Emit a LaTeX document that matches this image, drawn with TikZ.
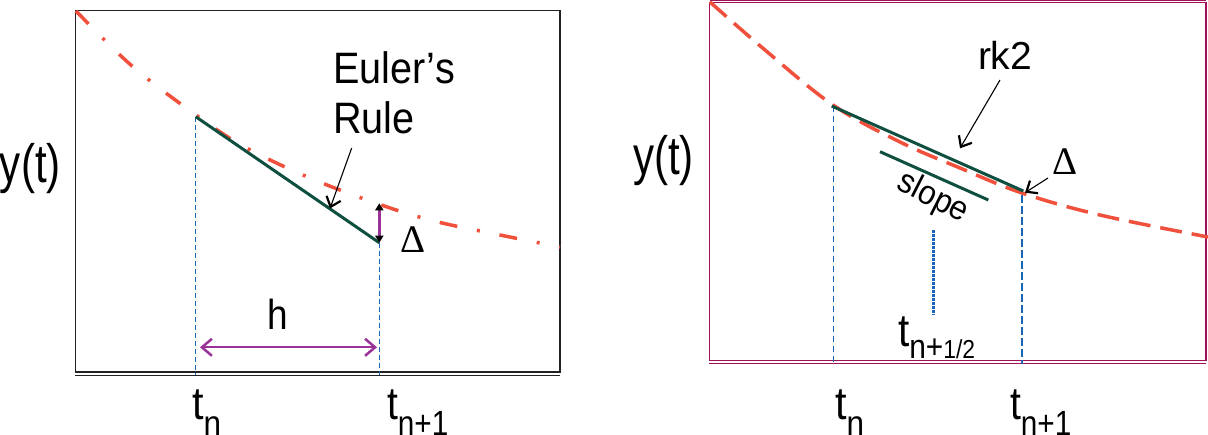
\documentclass[tikz,border=0pt]{standalone}
\usepackage{fontspec}
\setmainfont{Liberation Sans}
\newfontfamily\serifgr{Liberation Serif}
\usepackage{graphicx}
\usetikzlibrary{arrows.meta}
\definecolor{redc}{HTML}{F0503C}
\definecolor{greenc}{HTML}{0E4F40}
\definecolor{bluec}{HTML}{1A64B4}
\definecolor{purplec}{HTML}{993399}
\definecolor{boxmag}{HTML}{A0105A}
\definecolor{boxdark}{HTML}{222222}
\newcommand{\fsz}[1]{\fontsize{#1}{#1}\selectfont}
\newcommand{\cond}[2]{\scalebox{#1}[1]{#2}}
\begin{document}
\begin{tikzpicture}[x=1pt,y=-1pt,
  lbl/.style={anchor=base west, inner sep=0pt, outer sep=0pt},
  leftbox/.style={draw=boxdark, line width=1.4pt},
  rightbox/.style={draw=boxmag, line width=1.2pt},
  eulercurve/.style={draw=redc, line width=3.5pt, dash pattern=on 18pt off 20pt on 3pt off 20pt},
  rkcurve/.style={draw=redc, line width=3.5pt, dash pattern=on 22pt off 10pt},
  approx/.style={draw=greenc, line width=3pt},
  guide/.style={draw=bluec, line width=1.3pt, dash pattern=on 5pt off 3pt},
  guidethick/.style={draw=bluec, line width=2.2pt, dash pattern=on 8pt off 3pt},
  guidemid/.style={draw=bluec, line width=3.2pt, dash pattern=on 3pt off 1pt},
  callout/.style={draw=black, line width=1.1pt, -{Straight Barb[length=9pt,width=15pt,line width=2.2pt]}},
  harrow/.style={draw=purplec, line width=2pt, {Straight Barb[length=10pt,width=17pt,line width=2.5pt]}-{Straight Barb[length=10pt,width=17pt,line width=2.5pt]}},
  darrow/.style={draw=purplec, line width=2.5pt, {Triangle[length=7pt,width=8pt,color=black]}-{Triangle[length=7pt,width=8pt,color=black]}}
]
\useasboundingbox (0,0) rectangle (1208,435);

% ---------------- Left panel ----------------
\draw[leftbox] (75.7,10.7) rectangle (560,372);
\draw[boxdark, line width=1.4pt] (75,375.5) -- (560,375.5);

\draw[eulercurve] plot[smooth, tension=0.6] coordinates {(76,11) (132,66) (196,115) (243,146) (303,175) (367,200) (430,220) (500,235) (560,247)};

\coordinate (L0) at (195.7,116.7);
\coordinate (L1) at (379.3,242.7);
\coordinate (L1top) at (379.3,203.3);
\coordinate (L0ax) at (195.7,375);
\coordinate (L1ax) at (379.3,375);

\draw[guide] (L0) -- (L0ax);
\draw[guide] (L1) -- (L1ax);
\draw[approx] (L0) -- (L1);
\draw[darrow] (L1) -- (L1top);

\coordinate (hA) at (200,347.3);
\coordinate (hB) at (377,347.3);
\draw[harrow] (hA) -- (hB);

\node[lbl] (euler) at (333,83.3) {\cond{0.9}{\fsz{44}Euler’s}};
\node[lbl] (rule) at (333,133.3) {\cond{0.9}{\fsz{44}Rule}};
\coordinate (ea0) at (351.7,148);
\coordinate (ea1) at (330,208.5);
\draw[callout] (ea0) -- (ea1);

\node[lbl] (dleft) at (400,253) {\fsz{39}\serifgr Δ};
\node[lbl] (hlab) at (267,330) {\cond{0.88}{\fsz{42}h}};
\node[lbl] (ytl) at (0,183) {\cond{0.78}{\fsz{54}y(t)}};
\node[lbl] (tnl) at (192,420) {\cond{0.9}{\fsz{46}t\raisebox{-16pt}{\fsz{35}n}}};
\node[lbl] (tn1l) at (387,420) {\cond{0.85}{\fsz{46}t\raisebox{-16pt}{\fsz{35}n+1}}};

% ---------------- Right panel ----------------
\draw[rightbox] (709.3,2.7) rectangle (1206,360.7);
\draw[boxmag, line width=1.2pt] (710,0.7) -- (1206,0.7);
\draw[boxmag, line width=1.2pt] (709,363.3) -- (1206,363.3);

\draw[rkcurve] plot[smooth, tension=0.6] coordinates {(710,2) (765,50) (833,105) (900,142) (960,168) (1022,193) (1100,215) (1208,237)};

\coordinate (R0) at (831.7,106);
\coordinate (R1) at (1023.3,191);
\coordinate (R0ax) at (833.3,363);
\coordinate (R0top) at (833.3,106);
\coordinate (R1top) at (1021.7,195);
\coordinate (R1ax) at (1021.7,364);
\coordinate (S0) at (880,151.7);
\coordinate (S1) at (988.3,200);
\coordinate (M0) at (933.3,230);
\coordinate (M1) at (933.3,315);

\draw[guide, dash pattern=on 6pt off 4pt] (R0top) -- (R0ax);
\draw[guidethick] (R1top) -- (R1ax);
\draw[guidemid] (M0) -- (M1);
\draw[approx] (R0) -- (R1);
\draw[approx] (S0) -- (S1);

\node[lbl] (rk) at (978,70) {\fsz{39}rk2};
\coordinate (ra0) at (1000,80);
\coordinate (ra1) at (960,148.3);
\draw[callout] (ra0) -- (ra1);

\node[lbl] (dright) at (1052,175) {\fsz{39}\serifgr Δ};
\coordinate (da0) at (1048,178);
\coordinate (da1) at (1025,192.7);
\draw[callout] (da0) -- (da1);

\node[rotate=-27, inner sep=0pt] (slope) at (933,198) {\cond{0.92}{\fsz{34}slope}};
\node[lbl] (ytr) at (633,175) {\cond{0.78}{\fsz{54}y(t)}};
\node[lbl] (thalf) at (898,347) {\cond{0.88}{\fsz{46}t\raisebox{-12pt}{\fsz{34}n+\fsz{26}1/2}}};
\node[lbl] (tnr) at (835,420) {\cond{0.9}{\fsz{46}t\raisebox{-16pt}{\fsz{35}n}}};
\node[lbl] (tn1r) at (1010,420) {\cond{0.85}{\fsz{46}t\raisebox{-16pt}{\fsz{35}n+1}}};
\end{tikzpicture}
\end{document}
